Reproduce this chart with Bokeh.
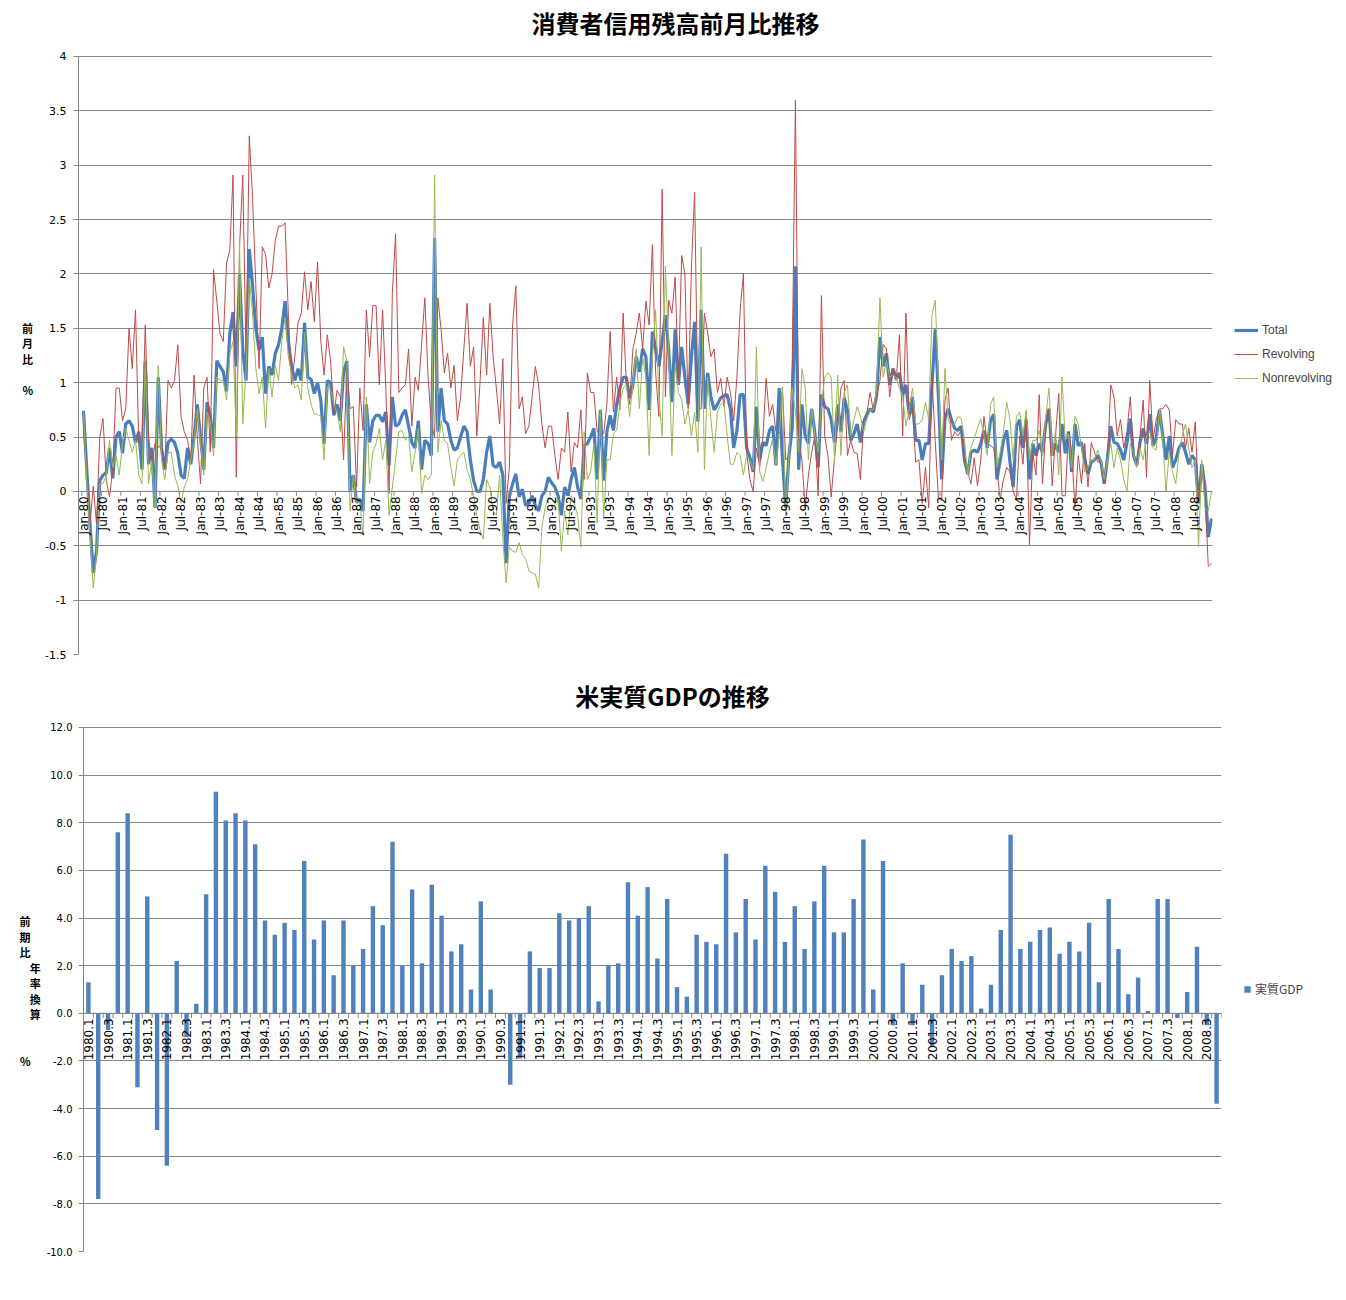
import math
from bokeh.plotting import figure
from bokeh.models import (Range1d, FixedTicker, NumeralTickFormatter,
                          Legend, LegendItem, Span, ColumnDataSource, LinearAxis)
from bokeh.embed import file_html
from bokeh.resources import INLINE
from bokeh.core.properties import value

# ---------------- data: consumer credit, month-on-month % (Jan-80 .. Dec-08) ----------------
total = [
    0.74, 0.2, -0.3, -0.75, -0.55, 0.1, 0.15, 0.17, 0.4, 0.12, 0.5, 0.55,
    0.35, 0.62, 0.65, 0.6, 0.45, 0.55, 0.2, 1.2, 0.25, 0.4, -0.15, 1.05,
    0.4, 0.2, 0.45, 0.48, 0.45, 0.35, 0.15, 0.12, 0.4, 0.25, 0.5, 0.8,
    0.5, 0.2, 0.82, 0.7, 0.4, 1.2, 1.15, 1.1, 0.92, 1.45, 1.65, 1.15,
    2.0, 1.3, 1.02, 2.23, 1.9, 1.5, 1.3, 1.42, 0.9, 1.15, 1.07, 1.27,
    1.35, 1.5, 1.75, 1.38, 1.15, 1.02, 1.13, 1.02, 1.55, 1.05, 1.03, 0.9,
    1.0, 0.84, 0.44, 1.02, 1.0, 0.7, 0.8, 0.65, 1.1, 1.2, 0.0, 0.15,
    -0.1, -0.07, -0.18, 0.8, 0.45, 0.65, 0.7, 0.7, 0.64, 0.73, 0.24, 0.87,
    0.6, 0.62, 0.7, 0.75, 0.6, 0.45, 0.4, 0.65, 0.2, 0.47, 0.44, 0.33,
    2.33, 0.55, 0.95, 0.65, 0.62, 0.47, 0.38, 0.4, 0.5, 0.6, 0.55, 0.29,
    0.1, 0.0, 0.0, 0.11, 0.36, 0.51, 0.24, 0.22, 0.27, 0.15, -0.66, -0.04,
    0.07, 0.16, -0.05, 0.02, -0.13, -0.11, -0.04, -0.13, -0.18, -0.04, 0.0, 0.13,
    0.08, 0.04, -0.04, -0.22, 0.04, -0.04, 0.11, 0.22, 0.04, -0.07, 0.42, 0.44,
    0.5, 0.58, 0.11, 0.75, 0.1, 0.55, 0.7, 0.56, 0.8, 0.95, 1.05, 1.05,
    0.86, 0.98, 1.24, 1.1, 1.31, 1.24, 0.75, 1.47, 1.31, 1.15, 1.38, 1.62,
    1.31, 0.82, 1.49, 0.98, 1.33, 1.05, 0.8, 1.24, 1.56, 0.64, 1.67, 0.76,
    1.09, 0.87, 0.75, 0.8, 0.86, 0.88, 0.89, 0.76, 0.4, 0.56, 0.89, 0.89,
    0.4, 0.31, 0.18, 0.78, 0.29, 0.45, 0.42, 0.56, 0.6, 0.24, 0.95, 0.3,
    -0.15, 0.33, 0.58, 2.07, 0.2, 0.8, 0.51, 0.44, 0.76, 0.53, 0.22, 0.89,
    0.78, 0.76, 0.66, 0.45, 0.8, 0.55, 0.86, 0.75, 0.47, 0.53, 0.62, 0.45,
    0.64, 0.71, 0.76, 0.73, 0.89, 1.42, 1.15, 1.27, 0.98, 1.13, 1.04, 1.09,
    0.89, 0.98, 0.71, 0.87, 0.47, 0.47, 0.29, 0.44, 0.44, 0.98, 1.49, 0.87,
    0.11, 0.67, 0.76, 0.66, 0.58, 0.56, 0.6, 0.29, 0.16, 0.36, 0.38, 0.36,
    0.44, 0.56, 0.4, 0.65, 0.71, 0.11, 0.29, 0.47, 0.56, 0.27, 0.04, 0.6,
    0.66, 0.4, 0.66, 0.11, 0.44, 0.33, 0.44, 0.36, 0.62, 0.76, 0.33, 0.44,
    0.36, 0.62, 0.35, 0.55, 0.18, 0.62, 0.42, 0.45, 0.29, 0.16, 0.27, 0.29,
    0.33, 0.27, 0.07, 0.31, 0.6, 0.45, 0.44, 0.38, 0.29, 0.45, 0.67, 0.33,
    0.24, 0.45, 0.58, 0.44, 0.71, 0.42, 0.49, 0.75, 0.51, 0.29, 0.51, 0.22,
    0.29, 0.4, 0.45, 0.36, 0.25, 0.33, 0.29, -0.11, 0.25, 0.04, -0.42, -0.25,
]

revolving = [
    0.55, 0.2, -0.3, 0.05, -0.3, 0.5, 0.67, 0.1, -0.05, 0.2, 0.95, 0.95,
    0.65, 0.76, 1.5, 1.13, 1.67, 0.44, 0.47, 1.53, 0.5, 0.25, 0.44, 0.4,
    0.44, 0.22, 1.02, 0.95, 1.02, 1.35, 0.69, 0.55, 0.47, 0.29, 1.07, 0.5,
    0.07, 0.95, 1.05, 0.36, 2.04, 1.75, 1.45, 1.38, 2.1, 2.22, 2.91, 0.13,
    2.25, 2.91, 1.24, 3.27, 2.7, 1.9, 1.13, 2.25, 2.18, 1.87, 2.0, 2.31,
    2.44, 2.44, 2.47, 1.64, 0.98, 1.24, 1.55, 1.64, 2.02, 1.67, 1.93, 1.56,
    2.11, 1.38, 1.07, 1.44, 1.2, 0.71, 0.93, 0.87, 0.29, 1.13, 0.76, 0.78,
    0.04, 0.95, 0.56, 1.67, 1.24, 1.71, 1.71, 0.98, 1.67, 0.95, -0.02, 1.82,
    2.37, 0.91, 0.95, 0.98, 1.31, 0.6, 1.05, 0.93, 1.35, 1.78, 1.05, 0.62,
    0.5, 1.78, 1.49, 1.09, 1.27, 0.95, 1.16, 0.65, 0.87, 1.31, 1.73, 1.15,
    1.33, 0.51, 1.02, 1.6, 1.07, 1.73, 1.24, 0.95, 0.62, 1.22, -0.11, 0.22,
    1.53, 1.89, 0.76, 0.87, 0.53, 0.6, 0.87, 1.15, 0.98, 0.62, 0.4, 0.6,
    0.6, 0.33, 0.11, 0.4, 0.36, 0.73, 0.18, 0.45, 0.4, 0.75, 0.11, 1.09,
    0.91, 0.91, 0.55, 0.55, 0.53, 0.8, 1.47, 0.73, 1.05, 0.75, 1.64, 0.98,
    0.8, 1.31, 1.45, 1.64, 1.31, 1.75, 1.53, 2.27, 1.09, 0.69, 2.78, 0.87,
    1.76, 1.64, 1.97, 1.02, 2.17, 2.0, 0.76, 2.06, 2.75, 0.76, 0.76, 1.64,
    1.46, 1.24, 1.31, 0.91, 1.04, 0.78, 1.05, 0.91, 0.65, 1.05, 1.67, 2.0,
    0.36, 0.11, 0.0, 0.4, 0.22, 0.5, 1.04, 0.69, 0.8, 0.55, 0.53, 0.96,
    0.29, 0.33, 1.16, 3.6, 0.47, 0.29, -0.15, 0.15, 0.36, 0.51, -0.04, 1.8,
    0.51, 0.33, -0.05, 0.3, 0.6, 0.95, 1.02, 0.33, 0.47, 0.36, 0.35, 0.11,
    0.66, 0.73, 0.91, 0.73, 0.87, 1.02, 1.35, 1.31, 0.87, 1.13, 1.02, 1.44,
    0.51, 1.64, 0.66, 0.76, 0.27, 0.29, -0.11, 0.22, -0.15, 1.05, 0.47, -0.07,
    -0.08, 0.84, 0.95, 0.47, 0.55, 0.51, 0.56, 0.3, 0.18, 0.07, 0.31, 0.05,
    0.29, 0.69, 0.44, 0.42, 0.4, 0.2, -0.07, 0.11, 0.22, 0.18, 0.0, -0.07,
    0.51, 0.25, 0.73, -0.49, 0.36, 0.15, 0.89, 0.07, 0.58, 0.76, 0.05, 0.51,
    0.9, -0.04, -0.04, 0.55, 0.36, -0.15, 0.33, 0.07, 0.44, 0.04, 0.45, 0.36,
    0.27, 0.27, 0.07, 0.29, 0.98, 0.87, 0.51, 0.66, 0.4, 0.55, 0.87, 0.36,
    0.25, 0.51, 0.84, 0.13, 1.02, 0.47, 0.66, 0.76, 0.76, 0.8, 0.75, 0.33,
    0.66, 0.62, 0.62, 0.4, 0.58, 0.36, 0.64, -0.07, 0.25, 0.0, -0.69, -0.66,
]

nonrevolving = [
    0.73, 0.1, -0.4, -0.89, -0.58, 0.07, 0.07, 0.15, 0.47, 0.22, 0.33, 0.15,
    0.44, 0.58, 0.47, 0.36, 0.47, 0.15, 0.07, 1.24, 0.07, 0.29, -0.15, 1.16,
    0.29, 0.11, 0.36, 0.36, 0.15, 0.05, -0.11, 0.04, 0.11, 0.29, 0.45, 0.76,
    0.44, 0.15, 0.73, 0.65, 0.33, 1.05, 1.02, 1.02, 0.84, 1.27, 1.38, 0.51,
    2.29, 0.62, 1.13, 1.96, 1.64, 1.13, 0.9, 1.05, 0.58, 1.13, 0.87, 1.16,
    1.02, 1.38, 1.6, 1.24, 1.09, 0.95, 0.98, 0.84, 1.46, 0.95, 0.8, 0.71,
    0.71, 0.69, 0.29, 0.96, 0.95, 0.8, 0.73, 0.55, 1.33, 1.2, -0.18, 0.15,
    -0.11, -0.1, -0.4, 0.87, 0.07, 0.36, 0.44, 0.58, 0.29, 0.47, -0.22, 0.04,
    0.29, 0.55, 0.56, 0.47, 0.51, 0.18, 0.36, 0.58, -0.02, 0.15, 0.11, 0.15,
    2.91, 0.36, 0.65, 0.47, 0.44, 0.22, 0.05, 0.29, 0.33, 0.36, 0.2, 0.11,
    -0.04, -0.22, -0.36, -0.44, 0.11, 0.04, -0.18, -0.22, 0.15, -0.44, -0.84, -0.51,
    -0.55, -0.56, -0.47, -0.58, -0.62, -0.73, -0.75, -0.76, -0.89, -0.33, -0.15, -0.07,
    -0.07, -0.11, -0.07, -0.55, -0.18, -0.4, -0.04, -0.11, -0.22, -0.51, 0.55, 0.11,
    0.18, 0.44, -0.29, 0.75, -0.25, 0.29, 0.29, 0.53, 0.56, 0.8, 0.95, 0.98,
    0.69, 0.98, 1.31, 0.76, 1.24, 1.05, 0.33, 1.24, 1.67, 0.87, 0.51, 2.07,
    1.31, 0.33, 1.16, 0.91, 0.84, 0.62, 0.75, 0.51, 0.73, 0.36, 2.25, 0.2,
    1.05, 0.66, 0.36, 0.73, 0.8, 0.82, 0.51, 0.25, 0.25, 0.36, 0.33, 0.15,
    0.33, 0.29, 0.2, 1.33, 0.18, 0.09, 0.22, 0.36, 0.49, 0.24, 0.51, 0.95,
    -0.22, 0.33, 0.95, 0.73, 0.36, 1.13, 0.95, 0.29, 0.76, 0.51, 0.36, 0.8,
    1.05, 1.09, 1.05, 0.29, 1.07, 0.33, 0.91, 0.98, 0.51, 0.66, 0.78, 0.69,
    0.55, 0.66, 0.75, 0.75, 0.95, 1.78, 1.05, 1.2, 1.05, 1.07, 1.05, 0.95,
    0.87, 0.6, 0.76, 0.95, 0.62, 0.62, 0.66, 0.82, 0.66, 1.62, 1.76, 1.02,
    0.29, 1.13, 0.66, 0.6, 0.62, 0.69, 0.67, 0.47, 0.15, 0.4, 0.49, 0.58,
    0.67, 0.51, 0.33, 0.8, 0.87, 0.22, 0.36, 0.55, 0.82, 0.66, 0.29, 0.69,
    0.73, 0.51, 0.75, 0.29, 0.47, 0.47, 0.56, 0.33, 0.69, 0.95, 0.33, 0.56,
    0.15, 1.05, 0.47, 0.53, 0.22, 0.69, 0.62, 0.4, 0.18, 0.22, 0.29, 0.29,
    0.38, 0.29, 0.11, 0.29, 0.44, 0.22, 0.4, 0.29, 0.11, 0.0, 0.44, 0.35,
    0.22, 0.4, 0.29, 0.51, 0.55, 0.4, 0.38, 0.76, 0.47, 0.0, 0.36, 0.18,
    0.07, 0.36, 0.51, 0.62, 0.4, 0.22, 0.29, -0.51, 0.29, -0.15, -0.18, 0.0,
]

month_names = ["Jan", "Feb", "Mar", "Apr", "May", "Jun",
               "Jul", "Aug", "Sep", "Oct", "Nov", "Dec"]
years_2d = [f"{y % 100:02d}" for y in range(1980, 2009)]
month_labels = [f"{m}-{y}" for y in years_2d for m in month_names]

# ---------------- data: US real GDP, q/q annualised % (1980.1 .. 2008.4) ----------------
gdp = [
    1.3, -7.8, -0.7, 7.6,
    8.4, -3.1, 4.9, -4.9,
    -6.4, 2.2, -1.0, 0.4,
    5.0, 9.3, 8.1, 8.4,
    8.1, 7.1, 3.9, 3.3,
    3.8, 3.5, 6.4, 3.1,
    3.9, 1.6, 3.9, 2.0,
    2.7, 4.5, 3.7, 7.2,
    2.0, 5.2, 2.1, 5.4,
    4.1, 2.6, 2.9, 1.0,
    4.7, 1.0, 0.0, -3.0,
    -1.9, 2.6, 1.9, 1.9,
    4.2, 3.9, 4.0, 4.5,
    0.5, 2.0, 2.1, 5.5,
    4.1, 5.3, 2.3, 4.8,
    1.1, 0.7, 3.3, 3.0,
    2.9, 6.7, 3.4, 4.8,
    3.1, 6.2, 5.1, 3.0,
    4.5, 2.7, 4.7, 6.2,
    3.4, 3.4, 4.8, 7.3,
    1.0, 6.4, -0.5, 2.1,
    -0.5, 1.2, -1.4, 1.6,
    2.7, 2.2, 2.4, 0.2,
    1.2, 3.5, 7.5, 2.7,
    3.0, 3.5, 3.6, 2.5,
    3.0, 2.6, 3.8, 1.3,
    4.8, 2.7, 0.8, 1.5,
    0.1, 4.8, 4.8, -0.2,
    0.9, 2.8, -0.5, -3.8,
]
quarter_labels = [f"{y}.{q}" for y in range(1980, 2009) for q in (1, 2, 3, 4)]

title_top = "消費者信用残高前月比推移"
title_bottom = "米実質GDPの推移"

# ---------------- styles ----------------
GRID = "#868686"
C_TOTAL = "#4A7EBB"
C_REV = "#BE4B48"
C_NONREV = "#98B954"
C_BAR = "#4F81BD"
TICK_FONT = "DejaVu Sans"
CJK = "Noto Sans CJK JP"


def style_yaxis(ax, size, standoff):
    ax.axis_line_color = GRID
    ax.major_tick_line_color = GRID
    ax.major_tick_out = 5
    ax.major_tick_in = 0
    ax.minor_tick_line_color = None
    ax.major_label_text_font = TICK_FONT
    ax.major_label_text_font_size = size
    ax.major_label_text_color = "#000000"
    ax.major_label_standoff = standoff
    ax.axis_label_orientation = "horizontal"
    ax.axis_label_text_font = CJK
    ax.axis_label_text_font_style = "bold"
    ax.axis_label_text_font_size = "11px"
    ax.axis_label_text_color = "#000000"
    ax.axis_label_text_line_height = 0.97


def add_title(p, x, y, text):
    p.text(x=[x], y=[y], text=[text], text_font=value(CJK),
           text_font_style="bold", text_font_size=value("24px"),
           text_align="center", text_baseline="middle", text_color="#000000")


# ======================= top chart =======================
# frame spans the whole upper area; y axis limited to -1.5..4 with bounds
n = len(total)
xs = list(range(n))
p1 = figure(frame_width=1134, frame_height=654,
            x_range=Range1d(-1.54, 347.3), y_range=Range1d(-1.5, 4.515),
            x_axis_location=None, output_backend="svg", toolbar_location=None,
            min_border_left=78, min_border_right=126, min_border_top=0,
            min_border_bottom=14)
p1.outline_line_color = None
p1.background_fill_color = "white"
p1.border_fill_color = "white"
p1.xgrid.visible = False
yt1 = [-1.5, -1.0, -0.5, 0.0, 0.5, 1.0, 1.5, 2.0, 2.5, 3.0, 3.5, 4.0]
p1.yaxis.ticker = FixedTicker(ticks=yt1)
p1.yaxis.bounds = (-1.5, 4.0)
p1.ygrid.ticker = FixedTicker(ticks=yt1)
p1.ygrid.grid_line_color = GRID
p1.yaxis.formatter = NumeralTickFormatter(format="0.[0]")
style_yaxis(p1.yaxis[0], "11px", 7)
p1.yaxis.axis_label = "\n\n\n\n前\n月\n比\n\n%"
p1.yaxis.axis_label_standoff = 9

src = ColumnDataSource(dict(x=xs, total=total, rev=revolving, nonrev=nonrevolving))
r_tot = p1.line("x", "total", source=src, line_color=C_TOTAL, line_width=3.2)
r_rev = p1.line("x", "rev", source=src, line_color=C_REV, line_width=1)
r_non = p1.line("x", "nonrev", source=src, line_color=C_NONREV, line_width=1)

p1.add_layout(Span(location=0, dimension="width", line_color=GRID, line_width=1))

tick_idx = list(range(0, n, 6))
p1.segment(x0=[i - 0.5 for i in tick_idx], y0=[0] * len(tick_idx),
           x1=[i - 0.5 for i in tick_idx], y1=[-0.04] * len(tick_idx),
           line_color=GRID, line_width=1)
p1.text(x=tick_idx, y=[-0.045] * len(tick_idx),
        text=[month_labels[i] for i in tick_idx],
        angle=math.pi / 2, text_align="right", text_baseline="middle",
        text_font=value(TICK_FONT), text_font_size=value("12px"),
        text_color="#000000")
add_title(p1, 182.1, 4.313, title_top)

leg1 = Legend(items=[LegendItem(label="Total", renderers=[r_tot]),
                     LegendItem(label="Revolving", renderers=[r_rev]),
                     LegendItem(label="Nonrevolving", renderers=[r_non])],
              location=(12, 256), margin=0, padding=10,
              glyph_width=24, glyph_height=20, label_height=20,
              spacing=4, label_standoff=4,
              label_text_font="Liberation Sans", label_text_font_size="12px",
              border_line_alpha=0, background_fill_alpha=0)
p1.add_layout(leg1, "right")

# ======================= bottom chart =======================
q = len(gdp)
qx = list(range(q))
p2 = figure(frame_width=1138, frame_height=583,
            x_range=Range1d(-0.5, q - 0.5), y_range=Range1d(-10, 14.477),
            x_axis_location=None, output_backend="svg", toolbar_location=None,
            min_border_left=83, min_border_right=117, min_border_top=0,
            min_border_bottom=41)
p2.outline_line_color = None
p2.background_fill_color = "white"
p2.border_fill_color = "white"
p2.xgrid.visible = False
yt2 = list(range(-10, 13, 2))
p2.yaxis.ticker = FixedTicker(ticks=yt2)
p2.yaxis.bounds = (-10, 12)
p2.ygrid.ticker = FixedTicker(ticks=yt2)
p2.ygrid.grid_line_color = GRID
p2.yaxis.formatter = NumeralTickFormatter(format="0.0")
style_yaxis(p2.yaxis[0], "10px", 6)
p2.yaxis.axis_label = "\n\n\n\n年\n率\n換\n算"
p2.yaxis.axis_label_standoff = 3

outer = LinearAxis(ticker=FixedTicker(ticks=[]))
style_yaxis(outer, "10px", 0)
outer.axis_line_color = None
outer.major_tick_out = 0
outer.axis_label = "\n\n\n\n前\n期\n比\n\n\n\n\n\n\n%"
outer.axis_label_standoff = -4
p2.add_layout(outer, "left")

bsrc = ColumnDataSource(dict(x=qx, gdp=gdp))
r_bar = p2.vbar(x="x", top="gdp", bottom=0, width=0.45, source=bsrc,
                fill_color=C_BAR, line_color=None)
p2.add_layout(Span(location=0, dimension="width", line_color=GRID, line_width=1))
bt = [i - 0.5 for i in range(q + 1)]
p2.segment(x0=bt, y0=[0] * len(bt), x1=bt, y1=[-0.2] * len(bt),
           line_color=GRID, line_width=1)
lab_idx = list(range(0, q, 2))
p2.text(x=lab_idx, y=[-0.21] * len(lab_idx),
        text=[quarter_labels[i] for i in lab_idx],
        angle=math.pi / 2, text_align="right", text_baseline="middle",
        text_font=value(TICK_FONT), text_font_size=value("12px"),
        text_color="#000000")
add_title(p2, 59.54, 13.343, title_bottom)

leg2 = Legend(items=[LegendItem(label="実質GDP", renderers=[r_bar])],
              location=(12, 244), margin=0, padding=10,
              glyph_width=8, glyph_height=8, label_height=14, label_standoff=4,
              label_text_font=CJK, label_text_font_size="12px",
              border_line_alpha=0, background_fill_alpha=0)
p2.add_layout(leg2, "right")

open("out.html", "w").write(file_html([p1, p2], INLINE))
